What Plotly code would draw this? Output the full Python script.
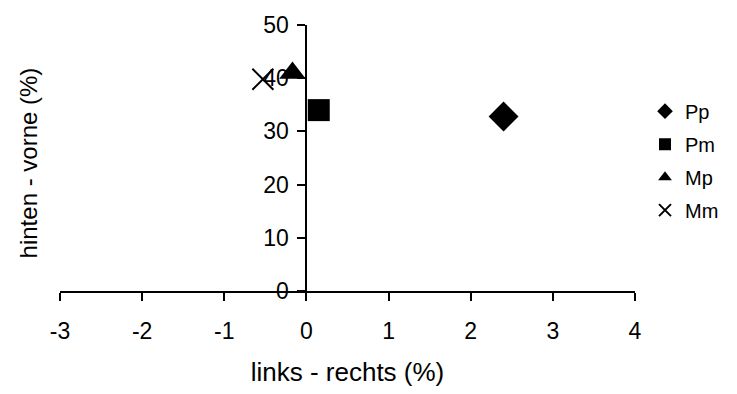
import plotly.graph_objects as go

series = ["Pp", "Pm", "Mp", "Mm"]
x_vals = [2.4, 0.15, -0.17, -0.53]
y_vals = [32.8, 34.0, 41.0, 39.8]
symbols = ["diamond", "square", "triangle-up", "x-thin"]
sizes = [23, 22, 23, 21]

x_ticks = [-3, -2, -1, 0, 1, 2, 3, 4]
x_tick_text = ["-3", "-2", "-1", "0", "1", "2", "3", "4"]
y_ticks = [0, 10, 20, 30, 40, 50]

FONT = "Liberation Sans, Arial, sans-serif"

fig = go.Figure()
for name, xv, yv, sym, sz in zip(series, x_vals, y_vals, symbols, sizes):
    marker = dict(symbol=sym, size=sz, color="black")
    if sym == "x-thin":
        marker["line"] = dict(color="black", width=2)
    fig.add_trace(go.Scatter(x=[xv], y=[yv], mode="markers", name=name,
                             legendgroup=name, marker=marker))

fig.update_layout(
    width=737, height=394,
    margin=dict(l=60, r=102, t=23, b=101),
    paper_bgcolor="white", plot_bgcolor="white",
    font=dict(family=FONT, size=22, color="black"),
    showlegend=True,
    legend=dict(x=(724 - 60) / 575, y=0.49, xanchor="right", yanchor="middle",
                font=dict(size=20), itemsizing="constant",
                tracegroupgap=4, bgcolor="rgba(0,0,0,0)"),
    xaxis=dict(range=[-3, 4], tickvals=x_ticks, ticktext=x_tick_text,
               showgrid=False, zeroline=False,
               showline=True, linecolor="black", linewidth=2,
               ticks="outside", ticklen=8, tickwidth=2, tickcolor="black",
               ticklabelstandoff=10,
               title=dict(text="links - rechts (%)", standoff=20, font=dict(size=26)),
               tickfont=dict(size=23)),
    yaxis=dict(range=[0, 50], tickvals=y_ticks, showgrid=False, zeroline=False,
               showline=True, linecolor="black", linewidth=2,
               ticks="outside", ticklen=8, tickwidth=2, tickcolor="black",
               ticklabelstandoff=4,
               anchor="free", position=3/7, tickfont=dict(size=23)),
    annotations=[dict(text="hinten - vorne (%)", x=28, y=0.5, xref="paper", yref="paper",
                      showarrow=False, textangle=-90, font=dict(size=24))],
)
fig.layout.annotations[0].update(x=-(60 - 28) / 575, y=(293.3 - 163.5) / 270.6,
                                 xanchor="center", yanchor="middle")
fig.write_html("out.html")
